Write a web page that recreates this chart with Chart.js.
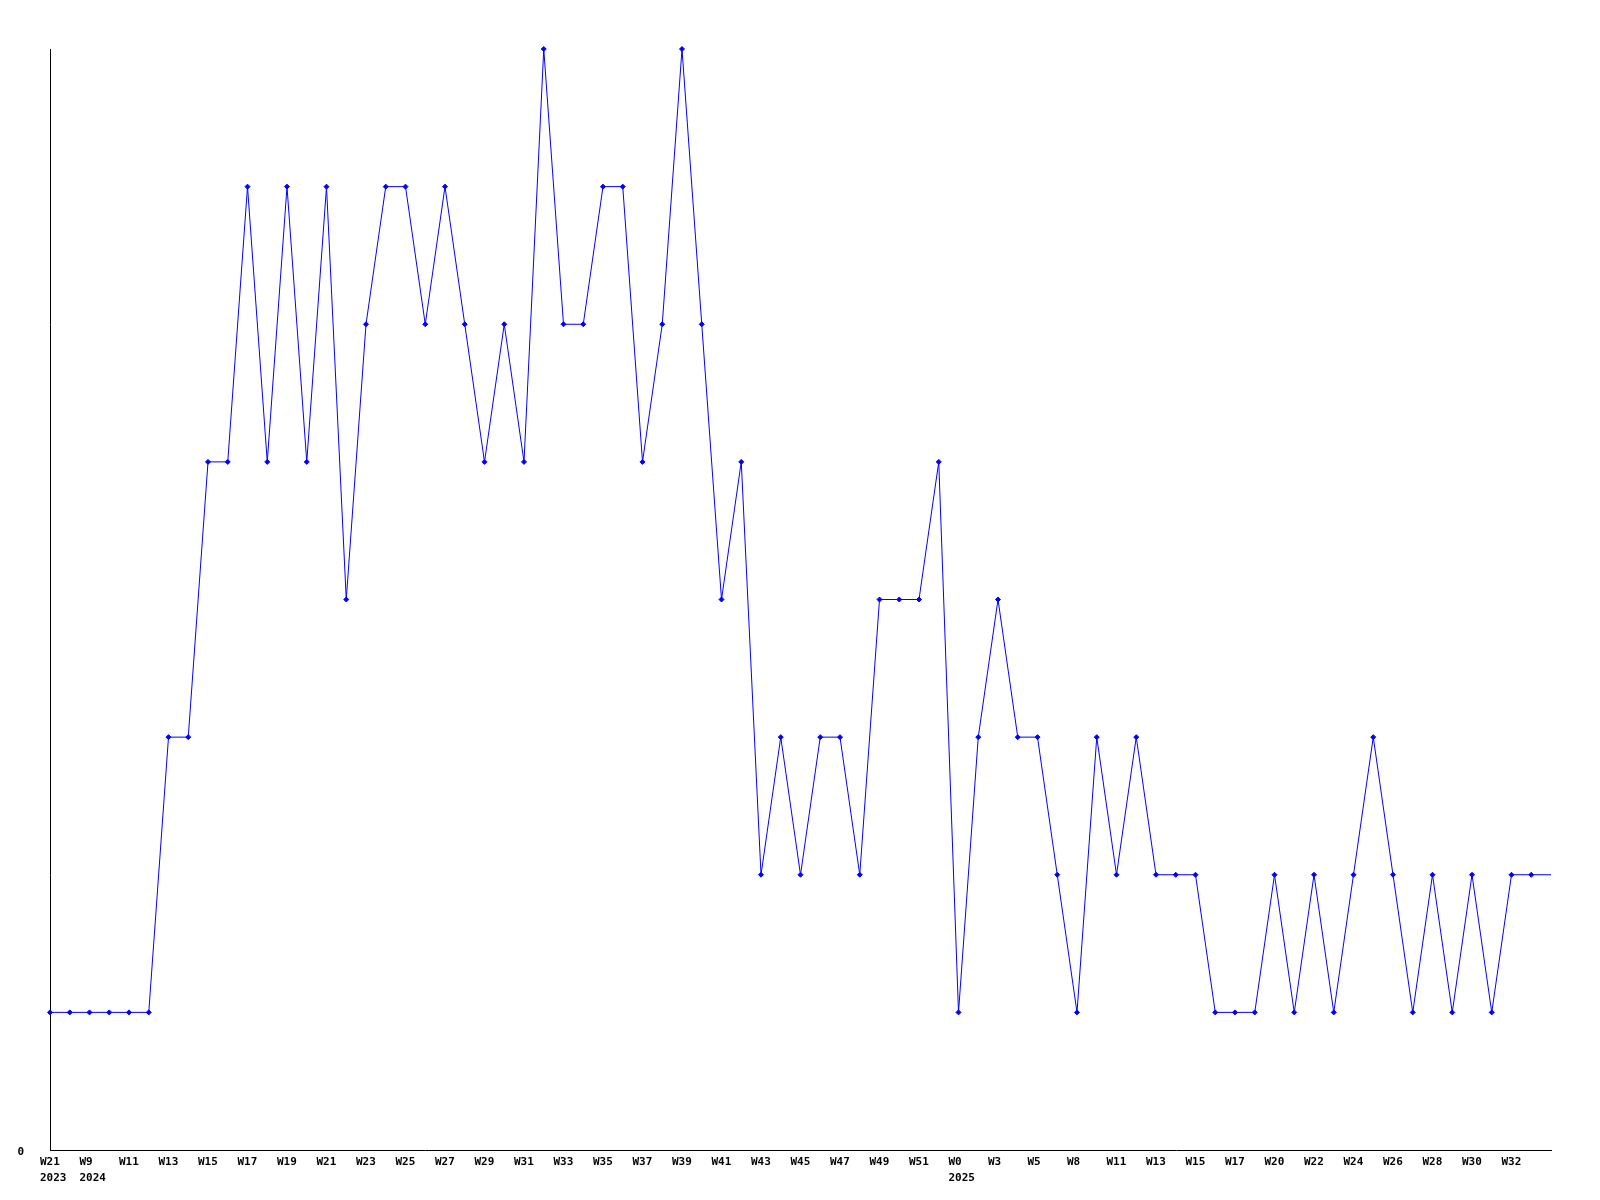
<!DOCTYPE html>
<html>
<head>
<meta charset="utf-8">
<script src="https://cdn.jsdelivr.net/npm/chart.js@4/dist/chart.umd.min.js"></script>
<style>
    html, body { margin: 0; padding: 0; background: #fff; }
    #wrap { width: 1600px; height: 1200px; }
</style>
</head>
<body>
<div id="wrap"><canvas id="weekChart" width="1600" height="1200"></canvas></div>
<script>
// week tick labels (blank where the axis shows no label)
const weekLabels = [
    ['W21', '2023'], '', ['W9', '2024'], '', 'W11', '', 'W13', '', 'W15', '',
    'W17', '', 'W19', '', 'W21', '', 'W23', '', 'W25', '',
    'W27', '', 'W29', '', 'W31', '', 'W33', '', 'W35', '',
    'W37', '', 'W39', '', 'W41', '', 'W43', '', 'W45', '',
    'W47', '', 'W49', '', 'W51', '', ['W0', '2025'], '', 'W3', '',
    'W5', '', 'W8', '', 'W11', '', 'W13', '', 'W15', '',
    'W17', '', 'W20', '', 'W22', '', 'W24', '', 'W26', '',
    'W28', '', 'W30', '', 'W32', '', ''
];

// weekly counts
const weekCounts = [
    1, 1, 1, 1, 1, 1, 3, 3, 5, 5,
    7, 5, 7, 5, 7, 4, 6, 7, 7, 6,
    7, 6, 5, 6, 5, 8, 6, 6, 7, 7,
    5, 6, 8, 6, 4, 5, 2, 3, 2, 3,
    3, 2, 4, 4, 4, 5, 1, 3, 4, 3,
    3, 2, 1, 3, 2, 3, 2, 2, 2, 1,
    1, 1, 2, 1, 2, 1, 2, 3, 2, 1,
    2, 1, 2, 1, 2, 2, 2
];

const yTicks = [0];

const tickFont = { family: '"DejaVu Sans Mono", monospace', size: 11, weight: 'bold', lineHeight: 1.45 };

new Chart(document.getElementById('weekChart'), {
    type: 'line',
    data: {
        labels: weekLabels,
        datasets: [{
            data: weekCounts,
            borderColor: '#0000ff',
            backgroundColor: '#0000ff',
            borderWidth: 1,
            tension: 0,
            fill: false,
            pointStyle: 'rectRot',
            pointRadius: (ctx) => (ctx.dataIndex === weekCounts.length - 1 ? 0 : 2.5),
            pointBorderWidth: 1,
        }],
    },
    options: {
        responsive: false,
        animation: false,
        clip: false,
        layout: { padding: { top: 49, right: 49, left: 0, bottom: 0 } },
        plugins: { legend: { display: false }, tooltip: { enabled: false } },
        scales: {
            x: {
                grid: { display: false },
                border: { display: true, color: '#000', width: 1 },
                offset: false,
                ticks: {
                    autoSkip: false,
                    maxRotation: 0,
                    minRotation: 0,
                    align: 'start',
                    labelOffset: -10,
                    padding: -4,
                    color: '#000',
                    font: tickFont,
                },
                afterFit: (scale) => { scale.height = 50; },
            },
            y: {
                min: 0,
                max: 8,
                grid: { display: false, drawTicks: false },
                border: { display: true, color: '#000', width: 1 },
                afterBuildTicks: (scale) => { scale.ticks = yTicks.map((v) => ({ value: v })); },
                ticks: {
                    padding: 26,
                    labelOffset: 2,
                    color: '#000',
                    font: tickFont,
                    callback: (v) => String(v),
                },
                afterFit: (scale) => { scale.width = 50; },
            },
        },
    },
});
</script>
</body>
</html>
